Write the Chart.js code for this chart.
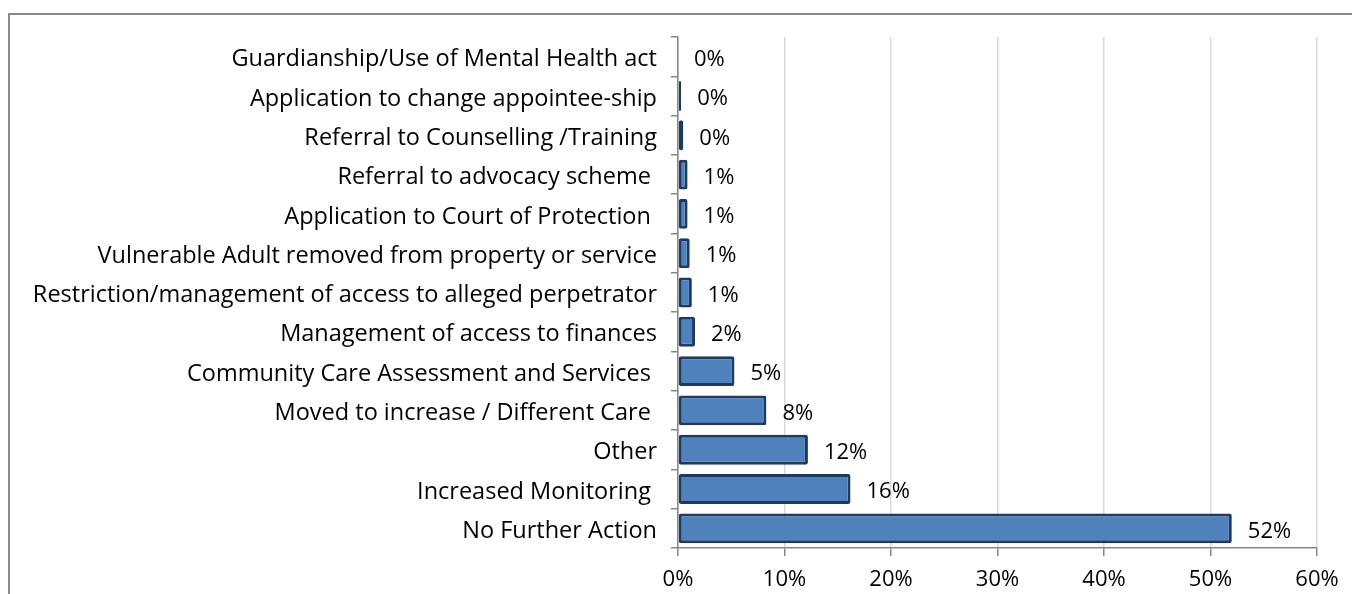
<!DOCTYPE html>
<html>
<head>
<meta charset="utf-8">
<script src="https://cdn.jsdelivr.net/npm/chart.js@4/dist/chart.umd.min.js"></script>
<style>
  html, body { margin: 0; padding: 0; background: #fff; overflow: hidden; }
  #frame { position: absolute; left: 8px; top: 13px; width: 1500px; height: 700px;
           border-left: 2px solid #8a8a8a; border-top: 2px solid #8a8a8a; }
  #wrap { position: absolute; left: 0; top: 0; width: 1352px; height: 594px; }
</style>
</head>
<body>
<div id="frame"></div>
<div id="wrap"><canvas id="chart" width="1352" height="594"></canvas></div>
<script>
	// ******************************************************** DATA

	var categories = [
		"Guardianship/Use of Mental Health act",
		"Application to change appointee-ship",
		"Referral to Counselling /Training",
		"Referral to advocacy scheme ",
		"Application to Court of Protection ",
		"Vulnerable Adult removed from property or service",
		"Restriction/management of access to alleged perpetrator",
		"Management of access to finances",
		"Community Care Assessment and Services ",
		"Moved to increase / Different Care ",
		"Other",
		"Increased Monitoring ",
		"No Further Action"
	];
	var shares = [0.0, 0.3, 0.5, 0.9, 0.9, 1.1, 1.3, 1.6, 5.3, 8.3, 12.2, 16.2, 52.0];
	var shareLabels = ["0%", "0%", "0%", "1%", "1%", "1%", "1%", "2%", "5%", "8%", "12%", "16%", "52%"];
	var xTicks = [0, 10, 20, 30, 40, 50, 60];

	var FONT = "'Open Sans', sans-serif";
	var CAT_SIZE = 23.5;
	var NUM_SIZE = 22;

	// ******************************************************** LABELS PLUGIN

	var barLabels = {
		id: 'barLabels',
		afterDatasetsDraw: function (chart) {
			var ctx = chart.ctx;
			var meta = chart.getDatasetMeta(0);
			ctx.save();
			ctx.font = NUM_SIZE + "px " + FONT;
			ctx.fillStyle = "#000";
			ctx.textAlign = "left";
			ctx.textBaseline = "middle";
			meta.data.forEach(function (bar, i) {
				ctx.fillText(shareLabels[i], bar.x + 16, bar.y + 3);
			});
			ctx.restore();
		}
	};

	// ******************************************************** CHART

	var config = {
		type: 'bar',
		data: {
			labels: categories,
			datasets: [{
				data: shares,
				backgroundColor: "#4F81BD",
				borderColor: "#1F3A5F",
				borderWidth: 3,
				borderRadius: 2,
				borderSkipped: false,
				categoryPercentage: 1,
				barPercentage: 0.76
			}]
		},
		options: {
			indexAxis: 'y',
			responsive: false,
			animation: false,
			layout: { padding: { top: 37, right: 35, left: 0, bottom: 0 } },
			plugins: { legend: { display: false }, tooltip: { enabled: false } },
			scales: {
				x: {
					min: 0, max: 60,
					afterBuildTicks: function (scale) {
						scale.ticks = xTicks.map(function (v) { return { value: v }; });
					},
					afterFit: function (scale) { scale.height = 46; },
					grid: { color: "#D9D9D9", lineWidth: 1.5, tickLength: 8, tickColor: "#868686" },
					border: { color: "#868686", width: 1.5 },
					ticks: {
						padding: 11,
						color: "#000",
						font: { size: NUM_SIZE, family: FONT },
						callback: function (v) { return v + "%"; }
					}
				},
				y: {
					afterFit: function (scale) { scale.width = 678; },
					grid: { offset: true, drawOnChartArea: false, tickLength: 7, color: "#868686", lineWidth: 1.5 },
					border: { color: "#868686", width: 1.5 },
					ticks: {
						padding: 14,
						labelOffset: 3,
						color: "#000",
						font: { size: CAT_SIZE, family: FONT }
					}
				}
			}
		},
		plugins: [barLabels]
	};

	var _ctxc = document.getElementById("chart").getContext("2d");
	window.myBar = new Chart(_ctxc, config);
</script>
</body>
</html>
